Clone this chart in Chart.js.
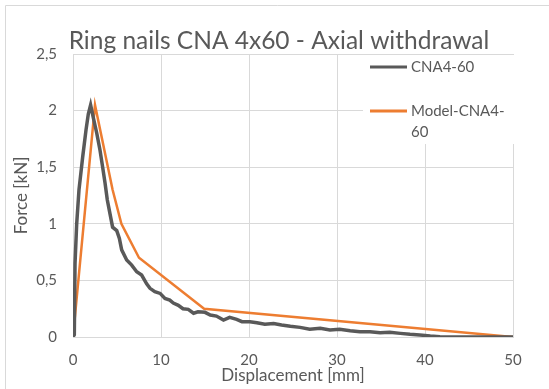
<!DOCTYPE html>
<html>
<head>
<meta charset="utf-8">
<script src="https://cdn.jsdelivr.net/npm/chart.js@4"></script>
<style>
  html, body { margin: 0; padding: 0; background: #fff; }
  #wrap { width: 549px; height: 389px; position: relative; }
</style>
</head>
<body>
<div id="wrap"><canvas id="chart" width="549" height="389"></canvas></div>
<script>
'use strict';

// ── Data ──────────────────────────────────────────────────
const chartTitle = 'Ring nails CNA 4x60 - Axial withdrawal';
const xTitle = 'Displacement [mm]';
const yTitle = 'Force [kN]';
const seriesNames = ['CNA4-60', 'Model-CNA4-60'];
const legendLines = [['CNA4-60'], ['Model-CNA4-', '60']];

// measured curve
const expDisp = [0, 0.15, 0.23, 0.42, 0.68, 1.1, 1.48, 1.74, 2.0, 2.3, 2.7, 3.07, 3.37, 3.64, 3.9,
  4.2, 4.5, 4.97, 5.27, 5.53, 6.1, 6.67, 7.24, 7.8, 8.37, 8.75, 9.3, 9.9, 10.45, 11.0, 11.4,
  11.97, 12.5, 13.1, 13.7, 14.2, 15.0, 15.6, 16.3, 17.1, 17.8, 18.6, 19.2, 20.1, 20.9, 21.8,
  22.8, 23.7, 24.7, 25.8, 26.9, 28.1, 29.2, 30.3, 31.5, 32.6, 33.75, 34.9, 36.0, 37.2, 38.3,
  39.4, 40.6, 41.7, 43.0, 50.0];
const expForce = [0, 0.02, 0.65, 1.0, 1.3, 1.59, 1.83, 1.97, 2.05, 1.94, 1.8, 1.65, 1.5, 1.36, 1.21,
  1.09, 0.97, 0.94, 0.87, 0.77, 0.68, 0.635, 0.576, 0.547, 0.47, 0.43, 0.40, 0.385, 0.34, 0.326, 0.30,
  0.28, 0.25, 0.244, 0.21, 0.223, 0.218, 0.194, 0.185, 0.15, 0.174, 0.156, 0.135, 0.135, 0.126, 0.112,
  0.12, 0.106, 0.095, 0.085, 0.068, 0.077, 0.062, 0.068, 0.056, 0.047, 0.047, 0.038, 0.041, 0.032, 0.024,
  0.018, 0.009, 0.003, 0, 0];

// bilinear model
const modelDisp = [0, 2.5, 4.5, 5.5, 7.5, 14.9, 50];
const modelForce = [0, 2.05, 1.3, 1.0, 0.7, 0.25, 0];

const xTicks = [0, 10, 20, 30, 40, 50];
const yTicks = [0, 0.5, 1, 1.5, 2, 2.5];

// ── Style ──────────────────────────────────────────────────
const TEXT = '#595959';
const GRID = '#d9d9d9';
const COLORS = ['#595959', '#ed7d31'];
const FONT = "Lato, 'Open Sans', sans-serif";

const toPts = (xs, ys) => xs.map((x, i) => ({ x, y: ys[i] }));
const comma = v => String(v).replace('.', ',');

// legend drawn by hand so the second label can wrap like Excel does
const excelLegend = {
    id: 'excelLegend',
    afterDraw(chart) {
        const ctx = chart.ctx;
        const area = chart.chartArea;
        ctx.save();
        ctx.fillStyle = '#fff';
        ctx.fillRect(363, area.top + 1, area.right - 363 + 1, 143 - area.top);
        ctx.font = '15px ' + FONT;
        ctx.textBaseline = 'middle';
        const rows = [67, 111];
        legendLines.forEach((lines, i) => {
            const y = rows[i];
            ctx.strokeStyle = COLORS[i];
            ctx.lineWidth = 3;
            ctx.beginPath();
            ctx.moveTo(370, y);
            ctx.lineTo(407, y);
            ctx.stroke();
            ctx.fillStyle = TEXT;
            lines.forEach((t, j) => ctx.fillText(t, 411, y + j * 21));
        });
        ctx.restore();
    },
    beforeDraw(chart) {
        // outline of the Excel chart object
        const ctx = chart.ctx;
        ctx.save();
        ctx.strokeStyle = GRID;
        ctx.lineWidth = 1;
        ctx.beginPath();
        ctx.moveTo(5.5, 389);
        ctx.lineTo(5.5, 5.5);
        ctx.lineTo(549, 5.5);
        ctx.stroke();
        ctx.restore();
    }
};

new Chart(document.getElementById('chart'), {
    type: 'scatter',
    data: {
        datasets: [
            {
                label: seriesNames[0],
                data: toPts(expDisp, expForce),
                showLine: true,
                borderColor: COLORS[0],
                borderWidth: 3.5,
                pointRadius: 0,
                tension: 0,
            },
            {
                label: seriesNames[1],
                data: toPts(modelDisp, modelForce),
                showLine: true,
                borderColor: COLORS[1],
                borderWidth: 2.5,
                pointRadius: 0,
                tension: 0,
            },
        ],
    },
    options: {
        responsive: false,
        animation: false,
        layout: { padding: { top: 54, right: 36, bottom: 0, left: 0 } },
        plugins: {
            legend: { display: false },
            tooltip: { enabled: false },
            title: { display: false },
        },
        scales: {
            x: {
                type: 'linear',
                min: 0,
                max: 50,
                afterBuildTicks: s => { s.ticks = xTicks.map(v => ({ value: v })); },
                afterFit: s => { s.height = 52; },
                grid: { color: GRID, drawTicks: false },
                border: { color: GRID },
                ticks: { color: TEXT, font: { family: FONT, size: 15 }, padding: 14, callback: comma },
                title: { display: true, text: xTitle, color: TEXT, font: { family: FONT, size: 17 }, padding: { top: 0, bottom: 3 } },
            },
            y: {
                type: 'linear',
                min: 0,
                max: 2.5,
                afterBuildTicks: s => { s.ticks = yTicks.map(v => ({ value: v })); },
                afterFit: s => { s.width = 73; },
                grid: { color: GRID, drawTicks: false },
                border: { color: GRID },
                ticks: { color: TEXT, font: { family: FONT, size: 15 }, padding: 16, callback: comma },
                title: { display: true, text: yTitle, color: TEXT, font: { family: FONT, size: 17 }, padding: { top: 11, bottom: 0 } },
            },
        },
    },
    plugins: [excelLegend, {
        id: 'bigTitle',
        afterDraw(chart) {
            const ctx = chart.ctx;
            ctx.save();
            ctx.font = '24.5px ' + FONT;
            ctx.fillStyle = TEXT;
            ctx.textAlign = 'center';
            ctx.textBaseline = 'alphabetic';
            ctx.fillText(chartTitle, 279, 49);
            ctx.restore();
        }
    }],
});
</script>
</body>
</html>
